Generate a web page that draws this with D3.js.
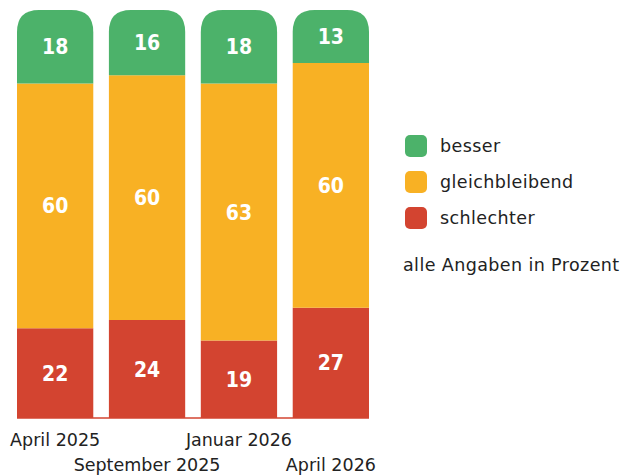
<!DOCTYPE html>
<html>
<head>
<meta charset="utf-8">
<script src="https://cdn.jsdelivr.net/npm/d3@7"></script>
<style>
  body { margin: 0; background: #fff; }
  text { font-family: "DejaVu Sans", "Noto Sans", sans-serif; }
</style>
</head>
<body>
<div id="vis-container"></div>
<script>
// data
const periods = ["April 2025", "September 2025", "Januar 2026", "April 2026"];
const besser = [18, 16, 18, 13];
const gleich = [60, 60, 63, 60];
const schlechter = [22, 24, 19, 27];

const seriesNames = ["besser", "gleichbleibend", "schlechter"];
const colors = ["#4cb26a", "#f8b124", "#d34430"];

let width = 629, height = 475;
let svg = d3.select("#vis-container").append("svg")
    .attr("width", width)
    .attr("height", height);

// table for the stack
let rows = periods.map((p, i) => ({
    period: p, besser: besser[i], gleichbleibend: gleich[i], schlechter: schlechter[i]
}));
// stack from bottom: schlechter first
let stack = d3.stack().keys(["schlechter", "gleichbleibend", "besser"])(rows);

let x = d3.scaleBand().domain(periods).range([17, 369]).paddingInner(0.17).paddingOuter(0);
let y = d3.scaleLinear().domain([0, 100]).range([418, 10]);

let colorOf = d3.scaleOrdinal().domain(seriesNames).range(colors);
let r = 22;

stack.forEach(layer => {
    let g = svg.append("g");
    g.selectAll("path")
        .data(layer)
        .join("path")
        .attr("fill", colorOf(layer.key))
        .attr("d", d => {
            let x0 = x(d.data.period), w = x.bandwidth();
            let y0 = y(d[1]), y1 = y(d[0]);
            if (layer.key === "besser") {
                // rounded top corners
                return `M${x0},${y1} V${y0 + r} Q${x0},${y0} ${x0 + r},${y0} H${x0 + w - r} Q${x0 + w},${y0} ${x0 + w},${y0 + r} V${y1} Z`;
            }
            return `M${x0},${y0} H${x0 + w} V${y1} H${x0} Z`;
        });
    g.selectAll("text")
        .data(layer)
        .join("text")
        .attr("x", d => x(d.data.period) + x.bandwidth() / 2)
        .attr("y", d => (y(d[0]) + y(d[1])) / 2)
        .attr("dy", "0.36em")
        .attr("text-anchor", "middle")
        .attr("fill", "#fff")
        .style("font-family", "'DejaVu Sans Condensed', 'DejaVu Sans', sans-serif")
        .style("font-weight", "bold")
        .style("font-size", "21px")
        .text(d => d.data[layer.key]);
});

// baseline
svg.append("line")
    .attr("x1", 17).attr("x2", 369)
    .attr("y1", y(0)).attr("y2", y(0))
    .attr("stroke", colors[2]).attr("stroke-width", 1.5);

// staggered period labels
svg.append("g").selectAll("text")
    .data(periods)
    .join("text")
    .attr("x", d => x(d) + x.bandwidth() / 2)
    .attr("y", (d, i) => i % 2 === 0 ? 446 : 471)
    .attr("text-anchor", "middle")
    .attr("fill", "#222")
    .style("font-size", "17.5px")
    .text(d => d);

// legend
let legend = svg.append("g").attr("transform", "translate(405,135)");
let item = legend.selectAll("g")
    .data(seriesNames)
    .join("g")
    .attr("transform", (d, i) => `translate(0,${i * 36})`);
item.append("rect")
    .attr("width", 22).attr("height", 22)
    .attr("rx", 5)
    .attr("fill", d => colorOf(d));
item.append("text")
    .attr("x", 35).attr("y", 11).attr("dy", "0.35em")
    .attr("fill", "#222")
    .style("font-size", "17.5px")
    .style("letter-spacing", "0.4px")
    .text(d => d);

svg.append("text")
    .attr("x", 403).attr("y", 271)
    .attr("fill", "#222")
    .style("font-size", "17.5px")
    .style("letter-spacing", "0.4px")
    .text("alle Angaben in Prozent");
</script>
</body>
</html>
